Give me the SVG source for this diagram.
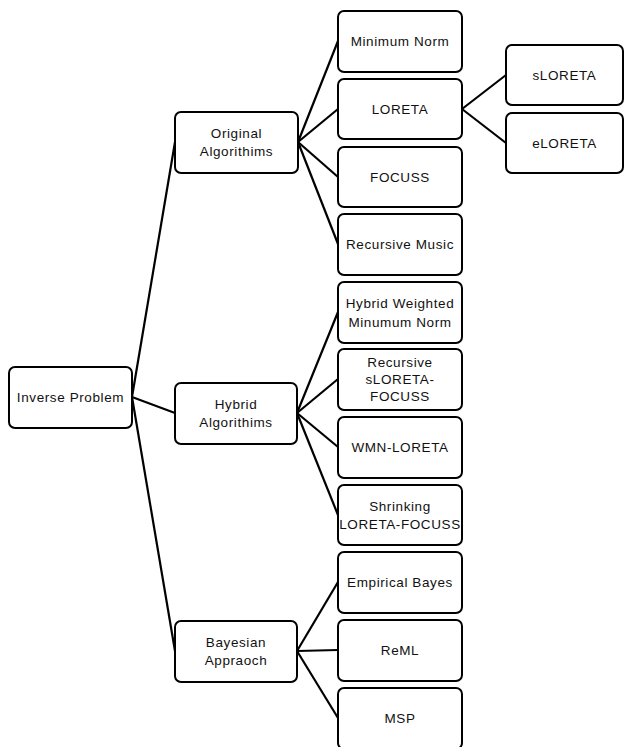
<svg xmlns="http://www.w3.org/2000/svg" width="624" height="747" viewBox="0 0 624 747">
<style>
.box{fill:#fff;stroke:#000;stroke-width:2}
.t{font-family:"Liberation Sans",Arial,sans-serif;font-size:13.5px;letter-spacing:0.6px;fill:#111;text-anchor:middle}
.c{stroke:#000;stroke-width:2.2;fill:none}
</style>
<rect width="624" height="747" fill="#fff"/>
<g id="connectors">
<line class="c" x1="132" y1="397" x2="175" y2="142"/>
<line class="c" x1="132" y1="397" x2="175" y2="413"/>
<line class="c" x1="132" y1="397" x2="175" y2="651"/>
<line class="c" x1="298" y1="142" x2="338" y2="41"/>
<line class="c" x1="298" y1="142" x2="338" y2="109"/>
<line class="c" x1="298" y1="142" x2="338" y2="177"/>
<line class="c" x1="298" y1="142" x2="338" y2="244"/>
<line class="c" x1="462" y1="109" x2="506" y2="75"/>
<line class="c" x1="462" y1="109" x2="506" y2="143"/>
<line class="c" x1="297" y1="413" x2="338" y2="312"/>
<line class="c" x1="297" y1="413" x2="338" y2="379"/>
<line class="c" x1="297" y1="413" x2="338" y2="447"/>
<line class="c" x1="297" y1="413" x2="338" y2="515"/>
<line class="c" x1="297" y1="651" x2="338" y2="582"/>
<line class="c" x1="297" y1="651" x2="338" y2="650"/>
<line class="c" x1="297" y1="651" x2="338" y2="718"/>
</g>
<g id="inverse-problem"><rect class="box" x="9" y="367" width="123" height="61" rx="6"/><text class="t" x="70.5" y="402">Inverse Problem</text></g>
<g id="original-algorithms"><rect class="box" x="175" y="112" width="123" height="61" rx="6"/><text class="t" x="236.5" y="138">Original</text><text class="t" x="236.5" y="156">Algorithims</text></g>
<g id="hybrid-algorithms"><rect class="box" x="175" y="383" width="122" height="61" rx="6"/><text class="t" x="236" y="409">Hybrid</text><text class="t" x="236" y="427">Algorithims</text></g>
<g id="bayesian-approach"><rect class="box" x="175" y="621" width="122" height="61" rx="6"/><text class="t" x="236" y="647">Bayesian</text><text class="t" x="236" y="665">Appraoch</text></g>
<g id="minimum-norm"><rect class="box" x="338" y="11" width="124" height="61" rx="6"/><text class="t" x="400" y="46">Minimum Norm</text></g>
<g id="loreta"><rect class="box" x="338" y="79" width="124" height="60" rx="6"/><text class="t" x="400" y="114">LORETA</text></g>
<g id="focuss"><rect class="box" x="338" y="147" width="124" height="60" rx="6"/><text class="t" x="400" y="182">FOCUSS</text></g>
<g id="recursive-music"><rect class="box" x="338" y="214" width="124" height="61" rx="6"/><text class="t" x="400" y="249">Recursive Music</text></g>
<g id="hybrid-weighted"><rect class="box" x="338" y="282" width="124" height="61" rx="6"/><text class="t" x="400" y="308">Hybrid Weighted</text><text class="t" x="400" y="327">Minumum Norm</text></g>
<g id="recursive-sloreta-focuss"><rect class="box" x="338" y="349" width="124" height="61" rx="6"/><text class="t" x="400" y="367">Recursive</text><text class="t" x="400" y="384">sLORETA-</text><text class="t" x="400" y="401">FOCUSS</text></g>
<g id="wmn-loreta"><rect class="box" x="338" y="417" width="124" height="61" rx="6"/><text class="t" x="400" y="452">WMN-LORETA</text></g>
<g id="shrinking-loreta-focuss"><rect class="box" x="338" y="485" width="124" height="60" rx="6"/><text class="t" x="400" y="511">Shrinking</text><text class="t" x="400" y="529">LORETA-FOCUSS</text></g>
<g id="empirical-bayes"><rect class="box" x="338" y="552" width="124" height="61" rx="6"/><text class="t" x="400" y="587">Empirical Bayes</text></g>
<g id="reml"><rect class="box" x="338" y="620" width="124" height="61" rx="6"/><text class="t" x="400" y="655">ReML</text></g>
<g id="msp"><rect class="box" x="338" y="688" width="124" height="61" rx="6"/><text class="t" x="400" y="723">MSP</text></g>
<g id="sloreta"><rect class="box" x="506" y="45" width="117" height="60" rx="6"/><text class="t" x="564.5" y="80">sLORETA</text></g>
<g id="eloreta"><rect class="box" x="506" y="113" width="117" height="60" rx="6"/><text class="t" x="564.5" y="148">eLORETA</text></g>
</svg>
